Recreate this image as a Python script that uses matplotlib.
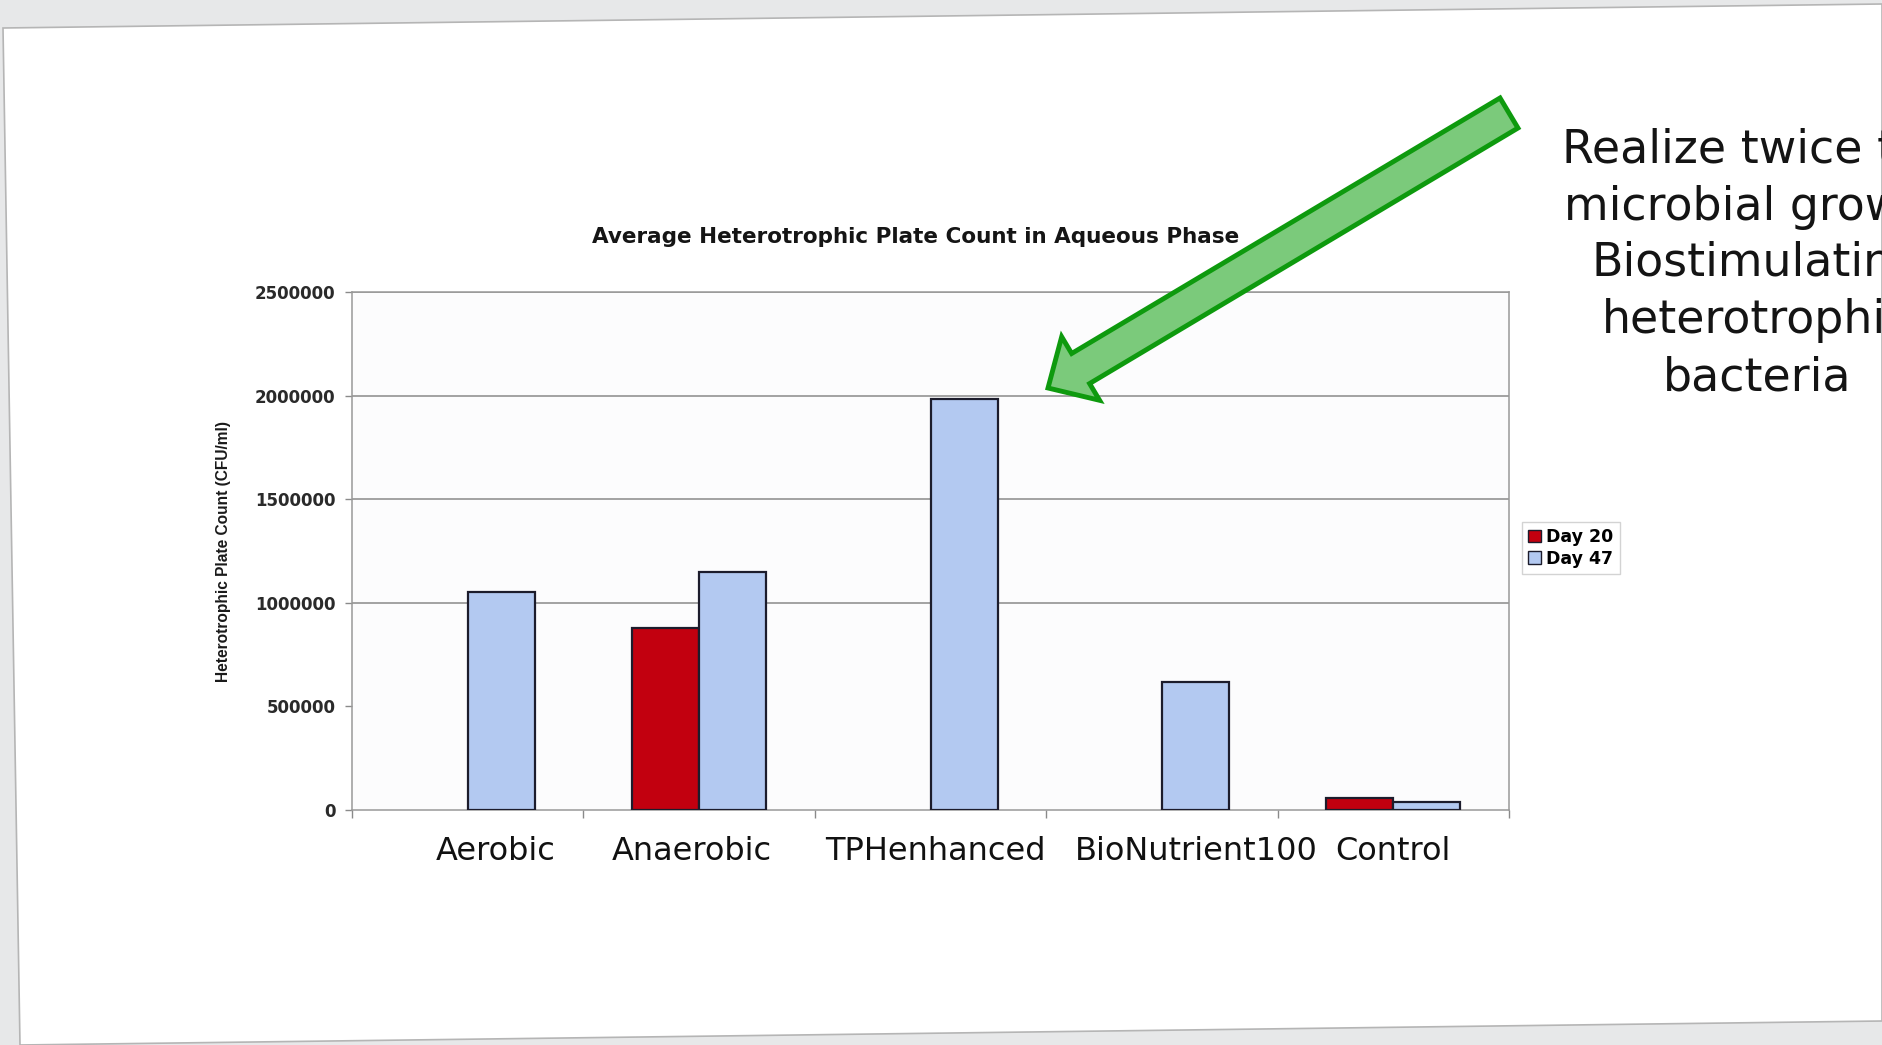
import numpy as np
import matplotlib
matplotlib.use("Agg")
import matplotlib.pyplot as plt
from matplotlib.patches import Polygon, FancyArrow, Patch

# ---------------- data ----------------
categories = ["Aerobic", "Anaerobic", "TPHenhanced", "BioNutrient100", "Control"]
series_names = ["Day 20", "Day 47"]
day20 = [np.nan, 880000, np.nan, np.nan, 60000]
day47 = [1050000, 1150000, 1985000, 620000, 40000]
y_ticks = [0, 500000, 1000000, 1500000, 2000000, 2500000]
title = "Average Heterotrophic Plate Count in Aqueous Phase"
y_label = "Heterotrophic Plate Count (CFU/ml)"
note = "Realize twice the\nmicrobial growth\nBiostimulating\nheterotrophic\nbacteria"

# ---------------- layout / style ----------------
W, H = 1882, 1045
label_shift = [0.12, -0.03, 0.02, 0.15, 0.0]   # slide labels sit slightly off-centre
red = "#c2000f"
blue = "#b3c9f1"
bar_edge = "#1c1c2c"
grid_c = "#8a8a8a"

fig = plt.figure(figsize=(W / 100, H / 100), dpi=100, facecolor="#e7e8e9")

# page background (scanned slide, slightly skewed)
bg = fig.add_axes([0, 0, 1, 1], zorder=-5)
bg.set_xlim(0, W); bg.set_ylim(H, 0); bg.axis("off")
bg.add_patch(Polygon([(3, 28), (W, 4), (W, 1021), (20, H)], closed=True,
                     facecolor="white", edgecolor="#b5b5b5", lw=1.2))

# ---------------- chart ----------------
ax = fig.add_axes([352 / W, 1 - 810 / H, 1157 / W, 518 / H], zorder=1)
ax.set_facecolor("#fcfcfd")
x = np.arange(len(categories))
bw = 0.29
ax.bar(x - bw / 2, day20, bw, color=red, edgecolor=bar_edge, linewidth=1.6,
       label=series_names[0], zorder=3)
ax.bar(x + bw / 2, day47, bw, color=blue, edgecolor=bar_edge, linewidth=1.6,
       label=series_names[1], zorder=3)

ax.set_xlim(-0.5, len(categories) - 0.5)
ax.set_ylim(y_ticks[0], y_ticks[-1])
ax.set_yticks(y_ticks)
ax.set_yticklabels([str(v) for v in y_ticks])
ax.tick_params(axis="y", length=5, width=1, color=grid_c, pad=7,
               labelsize=12, labelcolor="#2a2a2a")
for t in ax.get_yticklabels():
    t.set_fontweight("bold")
ax.yaxis.grid(True, color=grid_c, linewidth=1.1, zorder=0)
ax.set_axisbelow(True)
ax.get_ygridlines()[1].set_visible(False)   # no line at 500000 in the original
ax.get_ygridlines()[0].set_visible(False)

# category boundary tick marks + shifted slide labels
ax.set_xticks(np.arange(-0.5, len(categories), 1.0))
ax.set_xticklabels([])
ax.tick_params(axis="x", which="major", length=6, width=1, color=grid_c)
ax.set_xticks(x + np.array(label_shift), minor=True)
ax.set_xticklabels(categories, minor=True)
ax.tick_params(axis="x", which="minor", length=0, pad=19, labelsize=23,
               labelcolor="#111111")

for s in ax.spines.values():
    s.set_color("#999999")
    s.set_linewidth(1.1)

ax.set_ylabel(y_label, fontsize=11.2, fontweight="bold",
              family=["Liberation Sans", "DejaVu Sans"], color="#1a1a1a")
ax.yaxis.set_label_coords(-0.105, 0.5)

fig.text(916 / W, 1 - 237 / H, title, ha="center", va="center",
         fontsize=15.5, fontweight="bold", color="#151515")

leg = fig.legend(handles=[Patch(facecolor=red, edgecolor=bar_edge, label=series_names[0]),
                          Patch(facecolor=blue, edgecolor=bar_edge, label=series_names[1])],
                 loc="upper left", bbox_to_anchor=(1522 / W, 1 - 522 / H),
                 prop={"size": 12.5, "weight": "bold"}, frameon=True, fancybox=False,
                 handlelength=0.75, handleheight=0.75, handletextpad=0.3,
                 borderpad=0.35, labelspacing=0.2, borderaxespad=0)
leg.get_frame().set_edgecolor("#c8c8c8")
leg.get_frame().set_linewidth(1.0)

# ---------------- slide overlay ----------------
fg = fig.add_axes([0, 0, 1, 1], zorder=10)
fg.set_xlim(0, W); fg.set_ylim(H, 0); fg.axis("off"); fg.patch.set_alpha(0)
fg.add_patch(FancyArrow(1509, 113, -461, 275, width=35, head_width=74, head_length=38,
                        length_includes_head=True, facecolor="#7bca7b",
                        edgecolor="#0e9a0e", linewidth=3.5))
fg.text(1757, 264, note, ha="center", va="center", multialignment="center",
        fontsize=33, linespacing=1.34, color="#141414", family="DejaVu Sans",
        clip_on=False)

fig.savefig("out.png", dpi=100, facecolor=fig.get_facecolor())
